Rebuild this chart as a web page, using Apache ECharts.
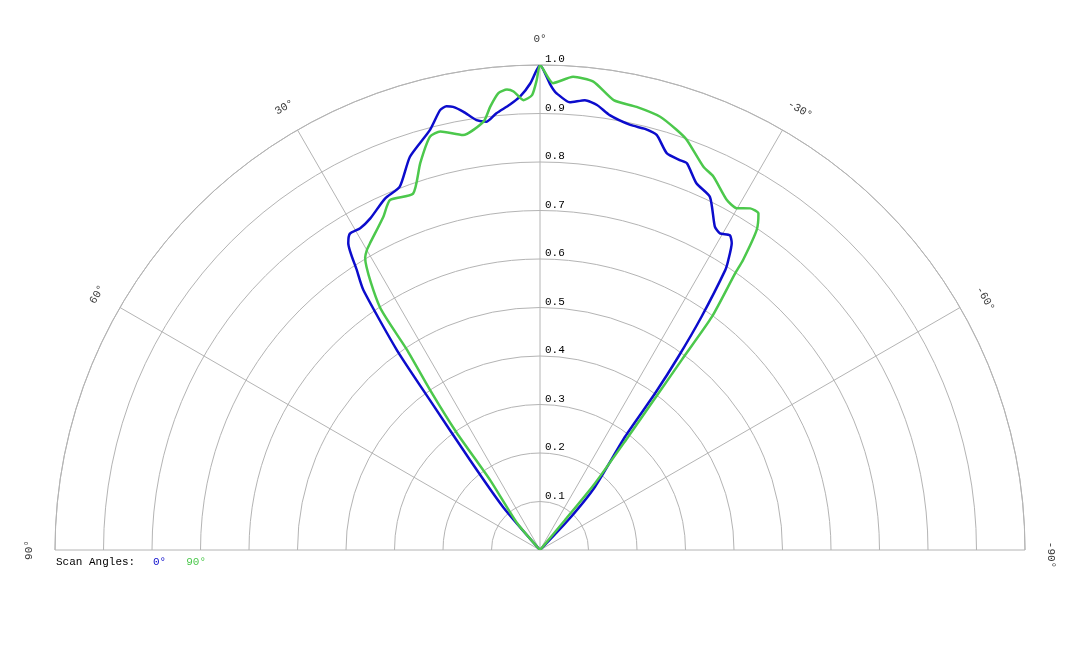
<!DOCTYPE html>
<html>
<head>
<meta charset="utf-8">
<script src="https://cdn.jsdelivr.net/npm/echarts@6/dist/echarts.min.js"></script>
<style>
html, body { margin: 0; padding: 0; background: #fff; }
#polar_chart { width: 1080px; height: 648px; }
</style>
</head>
<body>
<div id="polar_chart"></div>
<script>
// angle ticks shown round the outer arc
var angleTicks = [90, 60, 30, 0, -30, -60, -90];

// scan angle 0 deg (blue): angle in degrees, normalised value
var blueAngles = [45, 40.7, 37.9, 36.3, 35.6, 34.2, 33.2, 32.0, 31.0, 29.2, 27.1, 23.8, 21.1, 18.3, 14.7, 12.8, 11.9, 11.1, 9.9, 8.4, 7.1, 5.7, 3.9, 2.5, 1.2, 0,
	-1.2, -1.7, -2.1, -3.8, -5.7, -7.3, -9.1, -12.0, -14.0, -15.7, -17.7, -19.7, -20.8, -23.1, -25.7, -28.4, -29.6, -31.1, -32.0, -33.0, -33.5, -34.7, -35.6, -36.3, -36.9, -41.0, -43.3, -45];
var blueValues = [0, 0.117, 0.235, 0.384, 0.507, 0.648, 0.690, 0.746, 0.761, 0.760, 0.768, 0.792, 0.803, 0.854, 0.895, 0.930, 0.935, 0.931, 0.917, 0.896, 0.890, 0.905, 0.920, 0.936, 0.962, 1.0,
	0.962, 0.949, 0.942, 0.925, 0.932, 0.925, 0.908, 0.896, 0.895, 0.889, 0.859, 0.854, 0.853, 0.822, 0.808, 0.758, 0.751, 0.758, 0.746, 0.713, 0.692, 0.585, 0.490, 0.401, 0.292, 0.173, 0.085, 0];

// scan angle 90 deg (green)
var greenAngles = [42, 40.4, 35.5, 35.4, 34.5, 33.6, 33.4, 30.9, 30.0, 29.0, 25.2, 23.2, 19.6, 17.2, 14.9, 13.4, 10.5, 7.5, 6.4, 5.2, 4.1, 3.3, 2.1, 1.0, 0.4, 0,
	-1.6, -4.0, -6.5, -9.3, -12.3, -15.5, -18.0, -19.7, -23.1, -24.9, -28.1, -29.9, -31.6, -33.0, -34.1, -35.0, -35.2, -36.4, -36.7, -37.1, -37.9, -39.5, -39.8, -41];
var greenValues = [0, 0.073, 0.177, 0.296, 0.400, 0.496, 0.600, 0.702, 0.714, 0.723, 0.759, 0.785, 0.780, 0.835, 0.882, 0.887, 0.870, 0.891, 0.920, 0.946, 0.952, 0.947, 0.928, 0.938, 0.969, 1.0,
	0.963, 0.978, 0.972, 0.940, 0.935, 0.927, 0.911, 0.898, 0.859, 0.849, 0.818, 0.813, 0.827, 0.827, 0.797, 0.730, 0.698, 0.597, 0.489, 0.405, 0.296, 0.178, 0.080, 0];

var BLUE = '#0c0ccc';
var GREEN = '#4cc84c';
var GRID = '#b4b4b4';
var FONT = '"Liberation Mono", "DejaVu Sans Mono", monospace';
var LABEL_R = 1.054;

function pairs(angles, values) {
	return angles.map(function(a, i) {
		return [values[i], a];
	});
}

var chart = echarts.init(document.getElementById('polar_chart'));
var opt = {
	backgroundColor: '#fff',
	animation: false,
	title: {
		text: 'Scan Angles:',
		left: 56,
		top: 557,
		padding: 0,
		textStyle: { fontFamily: FONT, fontSize: 11, fontWeight: 'normal', color: '#000' }
	},
	legend: {
		left: 147,
		top: 557,
		padding: 0,
		itemWidth: 0,
		itemHeight: 0,
		itemGap: 14,
		selectedMode: false,
		textStyle: { fontFamily: FONT, fontSize: 11 },
		data: [
			{ name: '0°', textStyle: { color: BLUE } },
			{ name: '90°', textStyle: { color: GREEN } }
		]
	},
	polar: [
		{ center: [540, 550], radius: 485 },
		{ center: [540, 550], radius: 485 }
	],
	angleAxis: [{
		polarIndex: 0,
		type: 'value',
		min: -90,
		max: 90,
		interval: 30,
		startAngle: 0,
		endAngle: 180,
		clockwise: false,
		axisLine: { show: true, lineStyle: { color: GRID, width: 1 } },
		axisTick: { show: false },
		axisLabel: { show: false },
		splitLine: { show: true, lineStyle: { color: GRID, width: 1 } }
	}, {
		polarIndex: 1,
		type: 'value',
		min: 0,
		max: 360,
		startAngle: 90,
		show: false
	}],
	radiusAxis: [{
		polarIndex: 0,
		type: 'value',
		min: 0,
		max: 1,
		interval: 0.1,
		axisLine: { show: false },
		axisTick: { show: false },
		axisLabel: { show: false },
		splitLine: { show: true, lineStyle: { color: GRID, width: 1 } }
	}, {
		polarIndex: 1,
		type: 'value',
		min: 0,
		max: 1,
		interval: 0.1,
		axisLine: { show: false },
		axisTick: { show: false },
		splitLine: { show: false },
		axisLabel: {
			show: true,
			margin: 5,
			rotate: 0,
			align: 'left',
			verticalAlign: 'bottom',
			padding: [0, 0, 0, 10],
			fontFamily: FONT,
			fontSize: 11,
			color: '#000',
			formatter: function(v) {
				return v === 0 ? '' : v.toFixed(1);
			}
		}
	}],
	series: [{
		name: '0°',
		type: 'line',
		coordinateSystem: 'polar',
		polarIndex: 0,
		symbol: 'none',
		smooth: 0.2,
		color: BLUE,
		lineStyle: { width: 2.5, color: BLUE },
		data: pairs(blueAngles, blueValues)
	}, {
		name: '90°',
		type: 'line',
		coordinateSystem: 'polar',
		polarIndex: 0,
		symbol: 'none',
		smooth: 0.2,
		color: GREEN,
		lineStyle: { width: 2.5, color: GREEN },
		data: pairs(greenAngles, greenValues)
	}, {
		name: 'angleLabels',
		type: 'scatter',
		coordinateSystem: 'polar',
		polarIndex: 0,
		clip: false,
		symbolSize: 0,
		itemStyle: { color: 'rgba(0,0,0,0)' },
		silent: true,
		data: angleTicks.map(function(a) {
			// the minus sign hangs before the centred number
			return { value: [LABEL_R, a], label: { rotate: a, padding: a < 0 ? [0, 0, 0, 10] : 0 } };
		}),
		label: {
			show: true,
			position: 'inside',
			fontFamily: FONT,
			fontSize: 11,
			color: '#000',
			formatter: function(p) {
				return p.value[1] + '°';
			}
		}
	}]
};
chart.setOption(opt);
</script>
</body>
</html>
